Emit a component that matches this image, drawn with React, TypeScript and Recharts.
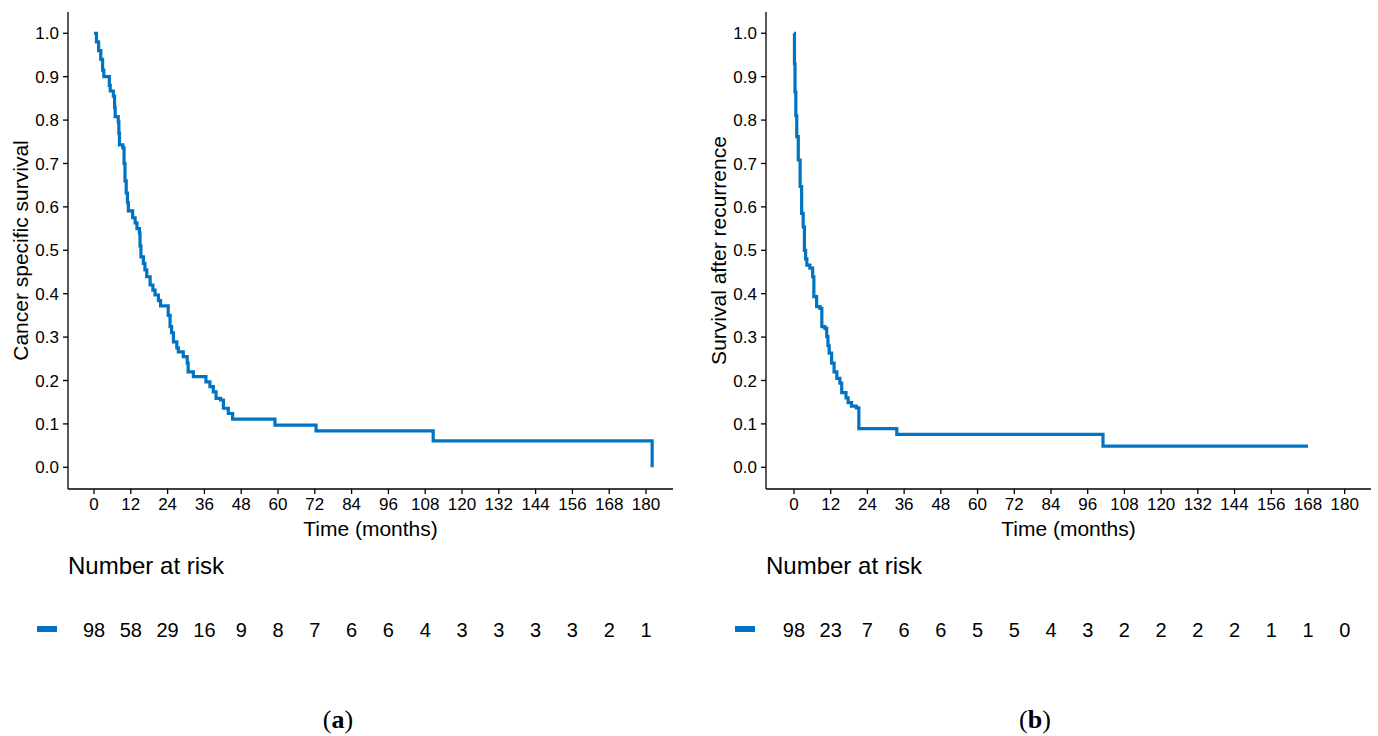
import React from 'react';
import { LineChart, Line, XAxis, YAxis, Label, LabelList } from 'recharts';

const TIME_TICKS = [0, 12, 24, 36, 48, 60, 72, 84, 96, 108, 120, 132, 144, 156, 168, 180];
const SURV_TICKS = [0, 0.1, 0.2, 0.3, 0.4, 0.5, 0.6, 0.7, 0.8, 0.9, 1.0];

// Panel (a): cancer specific survival
const cssTimes = [0, 0.8, 1.5, 2.2, 2.8, 3.2, 5.0, 5.3, 6.3, 6.7, 6.9, 7.9, 8.1, 8.3, 9.4, 9.8, 10.1, 10.5, 10.9, 11.2, 12.6, 13.4, 14.0, 14.8, 15.0, 15.3, 16.1, 16.6, 17.2, 18.3, 19.2, 19.9, 21.0, 21.7, 24.2, 24.8, 25.3, 25.9, 27.0, 27.5, 29.1, 30.4, 30.7, 32.4, 36.5, 37.8, 38.9, 39.8, 41.3, 42.2, 43.8, 45.2, 59.0, 72.4, 110.6, 182];
const cssSurv = [1.0, 0.98, 0.96, 0.94, 0.915, 0.9, 0.88, 0.867, 0.855, 0.83, 0.808, 0.796, 0.77, 0.743, 0.736, 0.7, 0.66, 0.632, 0.61, 0.591, 0.575, 0.563, 0.55, 0.54, 0.51, 0.485, 0.47, 0.455, 0.439, 0.42, 0.408, 0.397, 0.384, 0.372, 0.35, 0.324, 0.31, 0.289, 0.275, 0.266, 0.255, 0.24, 0.22, 0.209, 0.197, 0.186, 0.174, 0.159, 0.155, 0.136, 0.124, 0.111, 0.097, 0.084, 0.061, 0.0];
const cssRisk = [98, 58, 29, 16, 9, 8, 7, 6, 6, 4, 3, 3, 3, 3, 2, 1];

// Panel (b): survival after recurrence
const sarTimes = [0, 0.15, 0.33, 0.6, 0.9, 1.4, 2.0, 2.5, 3.0, 3.4, 3.8, 4.2, 5.2, 6.1, 6.5, 7.4, 8.5, 9.1, 10.1, 10.7, 11.1, 11.5, 12.3, 13.1, 14.0, 15.0, 15.6, 17.0, 17.7, 18.8, 20.4, 21.2, 33.6, 101, 168];
const sarSurv = [1.0, 0.93, 0.865, 0.81, 0.762, 0.708, 0.647, 0.585, 0.554, 0.5, 0.48, 0.466, 0.459, 0.439, 0.393, 0.37, 0.366, 0.324, 0.32, 0.301, 0.28, 0.263, 0.24, 0.22, 0.205, 0.194, 0.172, 0.16, 0.149, 0.141, 0.137, 0.089, 0.076, 0.049, 0.049];
const sarRisk = [98, 23, 7, 6, 6, 5, 5, 4, 3, 2, 2, 2, 2, 1, 1, 0];

const BLUE = '#0073C2';
const FONT = '"Liberation Sans", Arial, sans-serif';

const buildCurve = (times: number[], surv: number[]) => times.map((t, i) => ({ t, s: surv[i] }));
const buildRisk = (risk: number[]) => TIME_TICKS.map((t, i) => ({ t, n: risk[i], y: 0.5 }));

const yTitle = (text: string) => (props: any) => {
  const vb = props.viewBox || {};
  const cx = vb.x + 12;
  const cy = vb.y + vb.height / 2;
  return (
    <text x={cx} y={cy} transform={`rotate(-90 ${cx} ${cy})`} textAnchor="middle" dominantBaseline="central" fontSize={21} fill="#000" fontFamily={FONT}>
      {text}
    </text>
  );
};

const xTitle = (props: any) => {
  const vb = props.viewBox || {};
  return (
    <text x={vb.x + vb.width / 2} y={vb.y + 39} textAnchor="middle" dominantBaseline="central" fontSize={21} fill="#000" fontFamily={FONT}>
      Time (months)
    </text>
  );
};

const riskLabel = (props: any) => (
  <text x={props.x} y={props.y} textAnchor="middle" dominantBaseline="central" fontSize={20} fill="#000" fontFamily={FONT}>
    {props.value}
  </text>
);

type PanelProps = {
  left: number;
  times: number[];
  surv: number[];
  risk: number[];
  yLabel: string;
  domain: [number, number];
};

const Panel = ({ left, times, surv, risk, yLabel, domain }: PanelProps) => {
  const tickStyle = { fontSize: 17, fill: '#000', fontFamily: FONT };
  return (
    <>
      <div style={{ position: 'absolute', left, top: 0 }}>
        <LineChart width={690} height={550} data={buildCurve(times, surv)} margin={{ top: 12, right: 17, left: 8, bottom: 11 }}>
          <XAxis
            dataKey="t"
            type="number"
            domain={domain}
            ticks={TIME_TICKS}
            interval={0}
            height={50}
            tickSize={5}
            tickMargin={4}
            stroke="#000"
            strokeWidth={1.3}
            tick={tickStyle}
            allowDataOverflow
          >
            <Label content={xTitle} />
          </XAxis>
          <YAxis
            type="number"
            domain={[-0.05, 1.049]}
            ticks={SURV_TICKS}
            interval={0}
            width={60}
            tickSize={5}
            tickMargin={4}
            stroke="#000"
            strokeWidth={1.3}
            tick={tickStyle}
            tickFormatter={(v: number) => v.toFixed(1)}
            allowDataOverflow
          >
            <Label content={yTitle(yLabel)} />
          </YAxis>
          <Line type="stepAfter" dataKey="s" stroke={BLUE} strokeWidth={3.2} dot={false} isAnimationActive={false} />
        </LineChart>
      </div>
      <div style={{ position: 'absolute', left, top: 600 }}>
        <LineChart width={690} height={60} data={buildRisk(risk)} margin={{ top: 0, right: 17, left: 68, bottom: 0 }}>
          <XAxis dataKey="t" type="number" domain={domain} hide />
          <YAxis type="number" domain={[0, 1]} hide />
          <Line dataKey="y" stroke="none" dot={false} isAnimationActive={false}>
            <LabelList dataKey="n" content={riskLabel} />
          </Line>
        </LineChart>
      </div>
    </>
  );
};

export default function App() {
  return (
    <div style={{ position: 'absolute', left: 0, top: 0, width: 1378, height: 736, background: '#fff', fontFamily: FONT }}>
      <Panel left={0} times={cssTimes} surv={cssSurv} risk={cssRisk} yLabel="Cancer specific survival" domain={[-8.48, 188.8]} />
      <Panel left={698} times={sarTimes} surv={sarSurv} risk={sarRisk} yLabel="Survival after recurrence" domain={[-9.15, 188.6]} />
      <svg width={1378} height={736} style={{ position: 'absolute', left: 0, top: 0, pointerEvents: 'none' }}>
        <text x={68} y={574} fontSize={24} fill="#000" fontFamily={FONT}>Number at risk</text>
        <text x={766} y={574} fontSize={24} fill="#000" fontFamily={FONT}>Number at risk</text>
        <rect x={37} y={626} width={20} height={6} fill={BLUE} />
        <rect x={735} y={626} width={20} height={6} fill={BLUE} />
        <text x={338} y={719} textAnchor="middle" dominantBaseline="central" fontSize={26} fill="#000" fontFamily='"Liberation Serif", serif'>
          (<tspan fontWeight="bold">a</tspan>)
        </text>
        <text x={1035} y={719} textAnchor="middle" dominantBaseline="central" fontSize={26} fill="#000" fontFamily='"Liberation Serif", serif'>
          (<tspan fontWeight="bold">b</tspan>)
        </text>
      </svg>
    </div>
  );
}
